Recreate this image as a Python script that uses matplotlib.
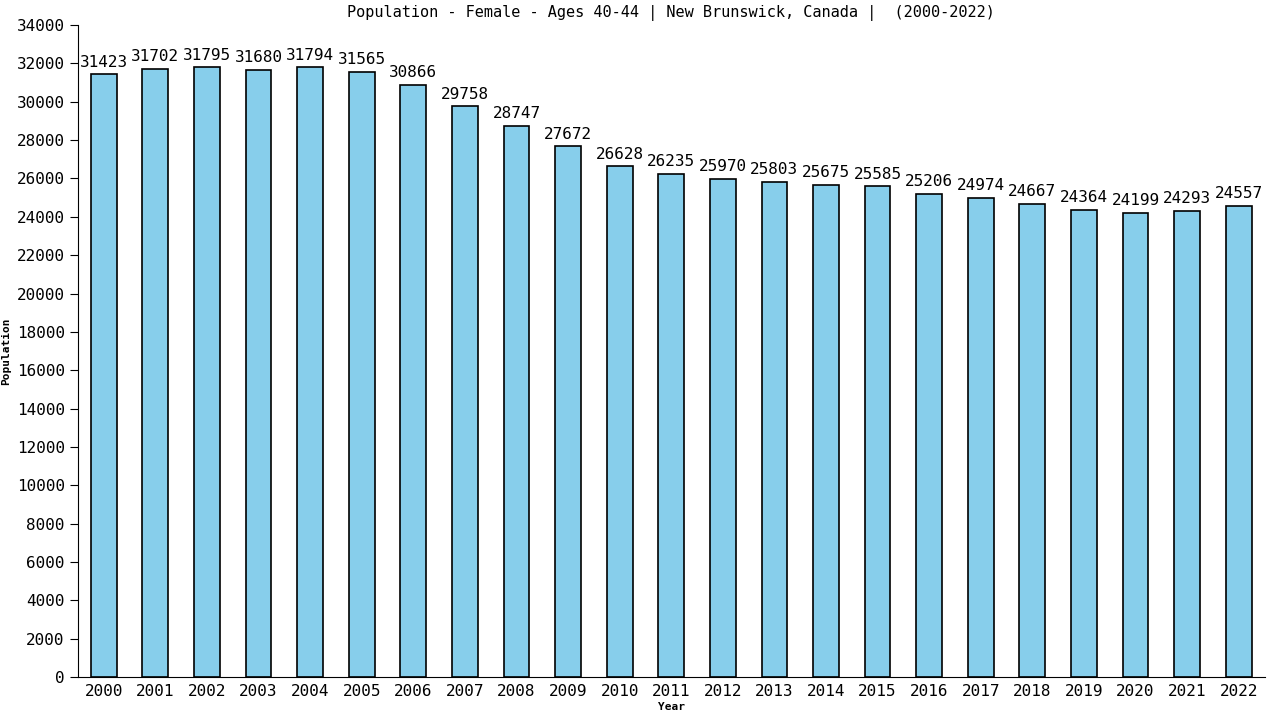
import matplotlib.pyplot as plt

years = [str(y) for y in range(2000, 2023)]
population = [31423, 31702, 31795, 31680, 31794, 31565, 30866, 29758, 28747, 27672,
              26628, 26235, 25970, 25803, 25675, 25585, 25206, 24974, 24667, 24364,
              24199, 24293, 24557]

plt.rcParams['font.family'] = ['DejaVu Sans Mono', 'DejaVu Sans']

fig = plt.figure(figsize=(12.8, 7.2), dpi=100)
ax = fig.add_axes([0.0609, 0.0597, 0.927, 0.9055])

x = list(range(len(years)))
ax.bar(x, population, width=0.5, color='#87CEEB', edgecolor='black', linewidth=1.2)
for xi, v in zip(x, population):
    ax.text(xi, v + 250, str(v), ha='center', va='bottom', fontsize=11.5)

ax.set_xlim(-0.5, len(years) - 0.5)
ax.set_ylim(0, 34000)
ax.set_yticks(range(0, 34001, 2000))
ax.set_xticks(x)
ax.set_xticklabels(years)
ax.tick_params(axis='y', length=6, labelsize=11.5)
ax.tick_params(axis='x', length=0, labelsize=11.5, pad=5)
ax.spines['top'].set_visible(False)
ax.spines['right'].set_visible(False)
ax.set_xlabel('Year', fontsize=8, fontweight='bold', labelpad=2)
ax.set_ylabel('Population', fontsize=8, fontweight='bold')
ax.set_title('Population - Female - Ages 40-44 | New Brunswick, Canada |  (2000-2022)', fontsize=11, pad=6)

fig.savefig('out.png', dpi=100)
